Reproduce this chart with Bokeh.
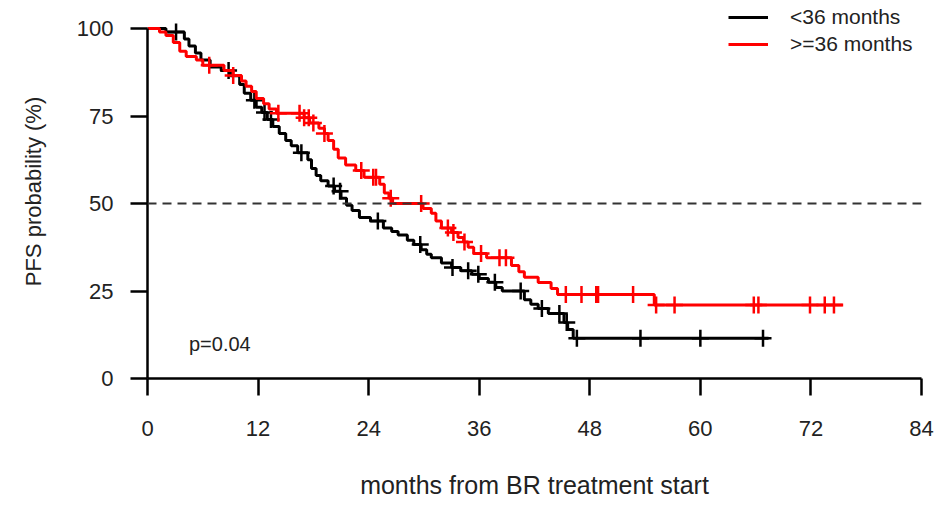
import numpy as np
from bokeh.plotting import figure
from bokeh.models import Range1d, FixedTicker, Span, Label, Legend, LegendItem
from bokeh.embed import file_html
from bokeh.resources import INLINE

FONT = "Liberation Sans"

# ---- axes ----
x_ticks = [0, 12, 24, 36, 48, 60, 72, 84]
y_ticks = [0, 25, 50, 75, 100]
x_title = "months from BR treatment start"
y_title = "PFS probability (%)"
p_value_text = "p=0.04"
median_line = 50

# ---- group "<36 months" (black) ----
lt_label = "<36 months"
lt_event_times = [2.0, 4.0, 4.5, 5.2, 5.8, 6.8, 8.0, 9.0, 10.0, 10.5, 11.2, 11.8, 12.4, 13.0, 13.6,
                  14.3, 15.0, 15.6, 16.3, 17.4, 17.8, 18.3, 18.8, 19.6, 20.3, 21.0, 21.6, 22.2, 23.0,
                  24.2, 25.6, 26.5, 27.2, 28.2, 28.9, 29.7, 30.3, 30.8, 31.9, 33.0, 34.0, 35.2, 36.0,
                  37.0, 37.8, 38.5, 40.9, 41.6, 42.4, 43.5, 45.2, 45.6, 46.2]
lt_surv = [99, 97, 95, 93, 91, 89, 88, 86.5, 84, 81.5, 79.5, 77.5, 76, 74, 72,
           70, 68, 66.5, 64.5, 62.5, 60, 58, 56.5, 55, 53.5, 51.5, 49.5, 48, 46,
           45, 43, 42, 41, 39.5, 38.3, 36.8, 35.5, 34.5, 33, 31.7, 30.8, 29.8, 28.6,
           27.5, 26, 25, 22.5, 21.2, 20, 18.6, 16, 14, 11.5]
lt_end = 67.4
lt_censor = [3.1, 8.8, 11.6, 12.7, 13.4, 16.7, 20.2, 20.9, 25.0, 29.6, 33.1, 34.8, 35.9, 37.7,
             40.5, 42.8, 44.7, 45.5, 46.6, 53.5, 60.0, 66.8]

# ---- group ">=36 months" (red) ----
ge_label = ">=36 months"
ge_event_times = [1.3, 2.0, 2.8, 3.5, 4.2, 5.3, 6.0, 8.3, 9.3, 10.2, 10.7, 11.3, 11.8, 12.6, 13.2,
                  14.0, 17.0, 17.6, 18.6, 19.2, 19.6, 20.2, 20.7, 21.5, 22.6, 23.5, 25.2, 25.7, 26.2,
                  26.6, 29.9, 30.8, 31.3, 31.9, 33.0, 33.7, 34.3, 34.8, 35.4, 36.8, 39.5, 40.3, 40.9,
                  42.4, 43.8, 44.5, 55.0]
ge_surv = [99, 98, 96, 93.5, 92, 91, 89.5, 88, 86.6, 85, 83.5, 82, 80, 78.5, 77,
           75.8, 74.5, 73, 71.5, 70, 68, 65.5, 63, 61, 59.4, 57.5, 55.5, 53, 51.5,
           50, 48.6, 47.2, 45, 43, 41.7, 40.3, 39, 37.5, 35.7, 34.5, 32.3, 30.5, 28.9,
           27.4, 25.7, 24, 21]
ge_end = 75.5
ge_censor = [6.7, 9.3, 14.2, 16.5, 17.0, 17.5, 18.0, 19.2, 23.2, 24.5, 24.8, 26.4, 29.7, 32.6, 33.2,
             34.4, 36.2, 38.2, 38.9, 45.4, 47.1, 48.7, 48.9, 52.7, 55.2, 57.2, 65.8, 66.3, 71.9,
             73.5, 74.5]


def km_steps(times, surv, end):
    xs = [0.0] + list(times) + [end]
    ys = [100.0] + list(surv) + [surv[-1]]
    return xs, ys


def level_at(times, surv, t):
    xs = np.array([0.0] + list(times))
    ys = np.array([100.0] + list(surv))
    idx = np.searchsorted(xs, np.asarray(t), side="right") - 1
    return ys[idx]


p = figure(width=935, height=506,
           x_range=Range1d(0, 84), y_range=Range1d(0, 106.86),
           output_backend="svg", toolbar_location=None,
           min_border_left=147, min_border_right=14, min_border_top=4, min_border_bottom=128)

p.grid.visible = False
p.outline_line_color = None
p.background_fill_color = "white"
p.border_fill_color = "white"

for ax in (p.xaxis[0], p.yaxis[0]):
    ax.axis_line_width = 2.5
    ax.axis_line_color = "black"
    ax.major_tick_line_width = 2.5
    ax.major_tick_line_color = "black"
    ax.major_tick_out = 17
    ax.major_tick_in = 0
    ax.minor_tick_line_color = None
    ax.major_label_text_font = FONT
    ax.major_label_text_font_size = "22px"
    ax.major_label_text_color = "#222222"
    ax.axis_label_text_font = FONT
    ax.axis_label_text_font_style = "normal"
    ax.axis_label_text_color = "#222222"

p.xaxis.ticker = FixedTicker(ticks=x_ticks)
p.yaxis.ticker = FixedTicker(ticks=y_ticks)
p.xaxis.bounds = (x_ticks[0], x_ticks[-1])
p.yaxis.bounds = (y_ticks[0], y_ticks[-1])
p.xaxis.axis_label = x_title
p.yaxis.axis_label = y_title
p.xaxis.axis_label_text_font_size = "25px"
p.yaxis.axis_label_text_font_size = "22px"
p.xaxis.major_label_standoff = 25
p.yaxis.major_label_standoff = 17
p.xaxis.axis_label_standoff = 32
p.yaxis.axis_label_standoff = 28

p.add_layout(Span(location=median_line, dimension="width", line_color="#333333",
                  line_width=2, line_dash="9 6"))

bx, by = km_steps(lt_event_times, lt_surv, lt_end)
rx, ry = km_steps(ge_event_times, ge_surv, ge_end)

r_black = p.step(bx, by, mode="after", line_color="black", line_width=3)
p.scatter(lt_censor, level_at(lt_event_times, lt_surv, lt_censor), marker="cross",
          size=17, line_color="black", line_width=2.5)

r_red = p.step(rx, ry, mode="after", line_color="#ff0000", line_width=3)
p.scatter(ge_censor, level_at(ge_event_times, ge_surv, ge_censor), marker="cross",
          size=17, line_color="#ff0000", line_width=2.5)

p.add_layout(Label(x=4.5, y=10, text=p_value_text, text_baseline="middle",
                   text_font=FONT, text_font_size="20px", text_color="#222222"))

legend = Legend(items=[LegendItem(label=lt_label, renderers=[r_black]),
                       LegendItem(label=ge_label, renderers=[r_red])],
                location=(581, 322), margin=0, padding=0, spacing=3,
                glyph_width=40, glyph_height=20, label_height=20, label_standoff=22,
                label_text_font=FONT, label_text_font_size="21px", label_text_color="#222222",
                background_fill_alpha=0, border_line_color=None)
p.add_layout(legend)

open("out.html", "w").write(file_html(p, INLINE))
